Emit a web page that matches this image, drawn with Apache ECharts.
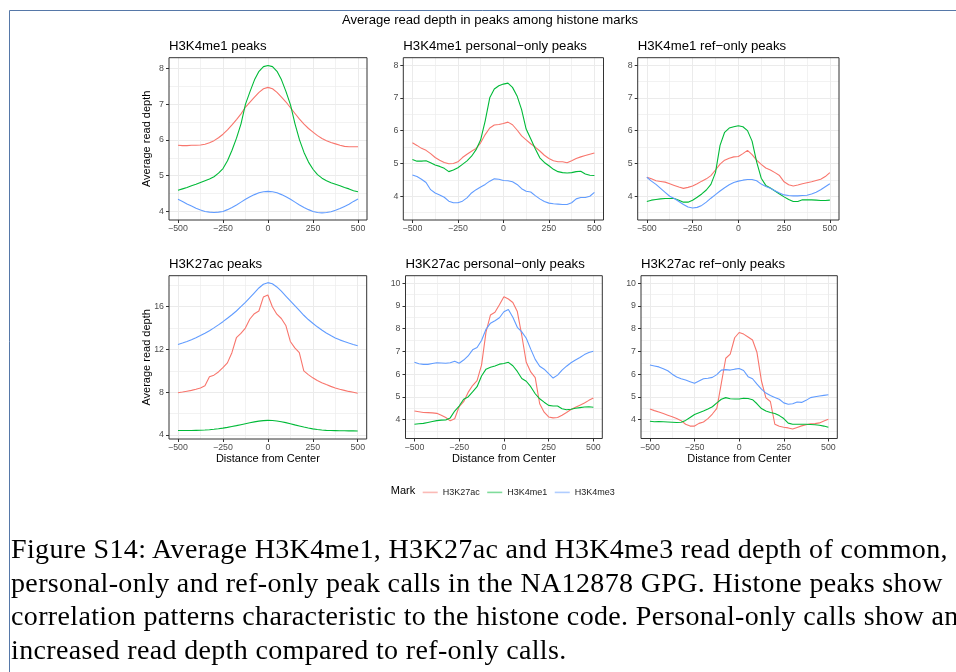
<!DOCTYPE html>
<html>
<head>
<meta charset="utf-8">
<script src="https://cdn.jsdelivr.net/npm/echarts@6/dist/echarts.min.js"></script>
<style>
  html, body { margin: 0; padding: 0; background: #fff; }
  #chart { position: absolute; left: 0; top: 0; width: 956px; height: 672px; }
  #caption {
    position: absolute; left: 11px; top: 532px; width: 945px; overflow: hidden;
    font-family: 'Liberation Serif', 'Times New Roman', serif; font-size: 28px;
    letter-spacing: 0.35px; line-height: 33.6px; color: #000; white-space: pre;
  }
</style>
</head>
<body>
<div id="chart"></div>
<div id="caption"></div>
<script>
// Distance from the peak center (bp)
const distance = [-500,-475,-450,-425,-400,-375,-350,-325,-300,-275,-250,-225,-200,-175,-150,-125,-100,-75,-50,-25,
  0,25,50,75,100,125,150,175,200,225,250,275,300,325,350,375,400,425,450,475,500];

const marks = ['H3K27ac', 'H3K4me1', 'H3K4me3'];

// H3K4me1 peaks
const me1AllK27ac = [5.85,5.84,5.84,5.85,5.85,5.86,5.88,5.92,5.98,6.06,6.16,6.28,6.42,6.57,6.73,6.92,7.06,7.2,7.33,7.43,
  7.47,7.43,7.33,7.2,7.06,6.9,6.74,6.58,6.44,6.32,6.22,6.12,6.04,5.98,5.93,5.89,5.85,5.82,5.81,5.81,5.81];
const me1AllMe1 = [4.59,4.63,4.67,4.72,4.76,4.81,4.86,4.91,4.97,5.07,5.2,5.42,5.71,6.05,6.45,7.0,7.35,7.68,7.92,8.05,
  8.08,8.05,7.92,7.68,7.35,6.98,6.45,6.0,5.65,5.38,5.18,5.03,4.93,4.86,4.8,4.76,4.72,4.67,4.63,4.58,4.55];
const me1AllMe3 = [4.34,4.28,4.21,4.15,4.09,4.04,4.0,3.98,3.97,3.98,4.0,4.05,4.11,4.18,4.26,4.34,4.41,4.47,4.52,4.55,
  4.56,4.55,4.52,4.47,4.41,4.34,4.26,4.18,4.11,4.05,4.0,3.97,3.96,3.97,3.99,4.03,4.08,4.14,4.2,4.28,4.35];

// H3K4me1 personal-only peaks
const me1PersK27ac = [5.63,5.55,5.46,5.4,5.3,5.18,5.1,5.03,4.99,5.0,5.05,5.18,5.28,5.37,5.46,5.63,5.88,6.08,6.17,6.19,
  6.22,6.26,6.18,6.02,5.84,5.72,5.6,5.5,5.38,5.25,5.15,5.08,5.05,5.05,5.02,5.08,5.15,5.2,5.24,5.28,5.32];
const me1PersMe1 = [5.12,5.07,5.07,5.08,5.02,4.95,4.91,4.85,4.75,4.8,4.87,4.97,5.08,5.22,5.42,5.72,6.3,7.0,7.27,7.37,
  7.42,7.45,7.32,7.06,6.64,6.05,5.75,5.45,5.17,5.03,4.93,4.82,4.75,4.72,4.71,4.72,4.75,4.76,4.68,4.64,4.63];
const me1PersMe3 = [4.65,4.6,4.52,4.42,4.2,4.1,4.04,3.97,3.85,3.8,3.8,3.85,3.95,4.1,4.2,4.28,4.36,4.46,4.53,4.52,
  4.48,4.47,4.44,4.36,4.23,4.15,4.13,4.02,3.92,3.84,3.79,3.77,3.76,3.75,3.75,3.8,3.92,3.96,3.96,4.0,4.12];

// H3K4me1 ref-only peaks
const me1RefK27ac = [4.58,4.53,4.47,4.45,4.43,4.38,4.33,4.28,4.24,4.27,4.31,4.38,4.46,4.53,4.63,4.8,4.98,5.1,5.16,5.2,
  5.21,5.3,5.4,5.27,5.1,4.97,4.86,4.8,4.72,4.63,4.44,4.35,4.31,4.34,4.38,4.41,4.44,4.48,4.52,4.6,4.72];
const me1RefMe1 = [3.84,3.88,3.9,3.92,3.93,3.93,3.93,3.88,3.82,3.82,3.88,3.97,4.07,4.19,4.36,4.72,5.55,5.95,6.08,6.12,
  6.15,6.12,6.0,5.68,5.05,4.55,4.33,4.25,4.16,4.07,3.98,3.9,3.84,3.84,3.89,3.89,3.89,3.88,3.87,3.87,3.88];
const me1RefMe3 = [4.58,4.46,4.36,4.24,4.12,4.0,3.93,3.84,3.75,3.67,3.64,3.66,3.72,3.82,3.94,4.05,4.16,4.26,4.35,4.42,
  4.46,4.49,4.51,4.51,4.47,4.37,4.3,4.24,4.17,4.1,4.04,4.02,4.01,4.01,4.02,4.03,4.07,4.12,4.2,4.29,4.38];

// H3K27ac peaks
const k27AllK27ac = [7.95,8.02,8.1,8.18,8.28,8.4,8.6,9.45,9.6,9.9,10.3,10.75,11.7,13.1,13.5,14.0,14.85,15.35,15.6,16.9,
  17.1,16.0,15.3,14.9,14.25,12.75,12.15,11.7,10.0,9.65,9.35,9.1,8.9,8.72,8.55,8.4,8.28,8.18,8.08,8.0,7.9];
const k27AllMe1 = [4.42,4.42,4.42,4.43,4.44,4.45,4.47,4.5,4.54,4.59,4.65,4.72,4.8,4.88,4.97,5.06,5.15,5.23,5.3,5.35,
  5.37,5.36,5.32,5.25,5.16,5.06,4.95,4.85,4.75,4.66,4.58,4.52,4.47,4.44,4.42,4.41,4.4,4.4,4.39,4.39,4.38];
const k27AllMe3 = [12.47,12.6,12.75,12.92,13.1,13.3,13.52,13.76,14.02,14.3,14.6,14.92,15.25,15.6,16.0,16.4,16.85,17.3,17.75,18.1,
  18.25,18.15,17.85,17.45,17.0,16.55,16.1,15.65,15.2,14.8,14.45,14.12,13.82,13.55,13.3,13.08,12.9,12.75,12.6,12.47,12.35];

// H3K27ac personal-only peaks
const k27PersK27ac = [4.38,4.35,4.32,4.31,4.3,4.28,4.2,4.1,3.95,4.04,4.58,4.79,5.2,5.5,5.72,6.4,7.85,8.6,8.72,9.05,
  9.4,9.3,9.15,8.75,7.7,6.52,6.1,5.85,4.7,4.33,4.12,4.08,4.1,4.2,4.32,4.45,4.55,4.64,4.73,4.85,4.95];
const k27PersMe1 = [3.8,3.82,3.84,3.88,3.92,3.96,3.98,3.99,4.08,4.38,4.6,4.9,5.0,5.22,5.45,5.92,6.22,6.3,6.36,6.44,
  6.47,6.52,6.37,6.12,5.81,5.69,5.45,5.14,4.92,4.77,4.63,4.6,4.6,4.48,4.44,4.46,4.5,4.53,4.56,4.57,4.55];
const k27PersMe3 = [6.52,6.46,6.43,6.43,6.47,6.5,6.49,6.48,6.5,6.57,6.48,6.62,6.8,7.07,7.17,7.48,7.97,8.24,8.35,8.48,
  8.74,8.84,8.5,8.06,7.86,7.58,7.1,6.65,6.35,6.22,6.02,5.83,5.96,6.18,6.35,6.5,6.62,6.73,6.86,6.95,7.01];

// H3K27ac ref-only peaks
const k27RefK27ac = [4.47,4.4,4.34,4.27,4.2,4.13,4.05,3.96,3.8,3.72,3.72,3.84,3.9,4.05,4.25,4.5,5.6,6.7,6.88,7.6,
  7.83,7.76,7.63,7.5,6.95,5.7,4.96,4.8,3.8,3.71,3.67,3.64,3.59,3.66,3.73,3.78,3.82,3.83,3.86,3.94,4.02];
const k27RefMe1 = [3.93,3.91,3.92,3.91,3.9,3.89,3.88,3.89,3.97,4.1,4.23,4.31,4.38,4.47,4.57,4.74,4.9,4.97,4.92,4.91,
  4.91,4.94,4.93,4.88,4.7,4.49,4.38,4.32,4.27,4.18,4.05,3.85,3.8,3.8,3.8,3.8,3.79,3.78,3.76,3.72,3.67];
const k27RefMe3 = [6.4,6.36,6.32,6.24,6.15,6.0,5.88,5.8,5.74,5.67,5.6,5.7,5.8,5.82,5.86,5.98,6.18,6.2,6.18,6.22,
  6.25,6.16,5.89,5.8,5.56,5.34,5.17,5.06,4.98,4.9,4.74,4.68,4.7,4.78,4.76,4.85,4.97,5.01,5.04,5.07,5.1];

// Axis breaks
const xTicks = [-500, -250, 0, 250, 500];
const xMinor = [-375, -125, 125, 375];
const yTicksMe1 = [4, 5, 6, 7, 8];
const yMinorMe1All = [4.5, 5.5, 6.5, 7.5];
const yMinorMe1 = [3.5, 4.5, 5.5, 6.5, 7.5];
const yTicksK27All = [4, 8, 12, 16];
const yMinorK27All = [6, 10, 14, 18];
const yTicksK27 = [4, 5, 6, 7, 8, 9, 10];
const yMinorK27 = [3.5, 4.5, 5.5, 6.5, 7.5, 8.5, 9.5];

const titleText = 'Average read depth in peaks among histone marks';
const captionLines = [
  'Figure S14: Average H3K4me1, H3K27ac and H3K4me3 read depth of common,',
  'personal-only and ref-only peak calls in the NA12878 GPG. Histone peaks show',
  'correlation patterns characteristic to the histone code. Personal-only calls show an',
  'increased read depth compared to ref-only calls.'
];

// ---- layout & styling ----
const COLORS = ['#F8766D', '#00BA38', '#619CFF'];
const SANS = "'Liberation Sans', Arial, Helvetica, sans-serif";

const panels = [
  { title: 'H3K4me1 peaks', lines: [me1AllK27ac, me1AllMe1, me1AllMe3],
    y: [3.76, 8.30], yTicks: yTicksMe1, yMinor: yMinorMe1All, box: [169, 57.7, 367, 220], yName: true, xName: false },
  { title: 'H3K4me1 personal\u2212only peaks', lines: [me1PersK27ac, me1PersMe1, me1PersMe3],
    y: [3.275, 8.225], yTicks: yTicksMe1, yMinor: yMinorMe1, box: [403.3, 57.7, 603.5, 220], yName: false, xName: false },
  { title: 'H3K4me1 ref\u2212only peaks', lines: [me1RefK27ac, me1RefMe1, me1RefMe3],
    y: [3.275, 8.225], yTicks: yTicksMe1, yMinor: yMinorMe1, box: [637.7, 57.7, 839, 220], yName: false, xName: false },
  { title: 'H3K27ac peaks', lines: [k27AllK27ac, k27AllMe1, k27AllMe3],
    y: [3.63, 18.9], yTicks: yTicksK27All, yMinor: yMinorK27All, box: [169, 275.7, 366.7, 439], yName: true, xName: true },
  { title: 'H3K27ac personal\u2212only peaks', lines: [k27PersK27ac, k27PersMe1, k27PersMe3],
    y: [3.175, 10.325], yTicks: yTicksK27, yMinor: yMinorK27, box: [405.5, 275.7, 602.3, 438.5], yName: false, xName: true },
  { title: 'H3K27ac ref\u2212only peaks', lines: [k27RefK27ac, k27RefMe1, k27RefMe3],
    y: [3.175, 10.325], yTicks: yTicksK27, yMinor: yMinorK27, box: [641, 275.7, 837.3, 438.5], yName: false, xName: true }
];

const grids = [], xAxes = [], yAxes = [], series = [];
const graphics = [
  // page frame
  { type: 'line', shape: { x1: 9.5, y1: 10.5, x2: 956, y2: 10.5 }, style: { stroke: '#5678a8', lineWidth: 1 }, silent: true },
  { type: 'line', shape: { x1: 9.5, y1: 10.5, x2: 9.5, y2: 672 }, style: { stroke: '#5678a8', lineWidth: 1 }, silent: true },
  { type: 'text', x: 490, y: 20.5, silent: true,
    style: { text: titleText, fill: '#000', fontSize: 13.1, fontFamily: SANS, align: 'center', verticalAlign: 'middle' } },
  { type: 'text', x: 403, y: 490.7, silent: true,
    style: { text: 'Mark', fill: '#000', fontSize: 11, fontFamily: SANS, align: 'center', verticalAlign: 'middle' } }
];

const minus = v => String(v).replace('-', '\u2212');

panels.forEach((p, i) => {
  const [l, t, r, b] = p.box;
  grids.push({ left: l, top: t, width: r - l, height: b - t, show: true,
    backgroundColor: 'transparent', borderColor: '#333333', borderWidth: 1, containLabel: false, z: 5 });

  const majorX = {
    gridIndex: i, type: 'value', min: -550, max: 550, position: 'bottom',
    axisLine: { show: false, onZero: false },
    axisTick: { show: true, length: 3, customValues: xTicks, lineStyle: { color: '#333333', width: 1 } },
    axisLabel: { customValues: xTicks, formatter: minus, color: '#4D4D4D', fontSize: 8.8, fontFamily: SANS, margin: 4.5 },
    splitLine: { show: true, lineStyle: { color: '#EBEBEB', width: 1 } }
  };
  const minorX = {
    gridIndex: i, type: 'value', min: -550, max: 550, position: 'top',
    axisLine: { show: false, onZero: false },
    axisTick: { show: false, customValues: xMinor },
    axisLabel: { show: false, customValues: xMinor },
    splitLine: { show: true, lineStyle: { color: '#EDEDED', width: 0.7 } }
  };
  const majorY = {
    gridIndex: i, type: 'value', min: p.y[0], max: p.y[1], position: 'left',
    axisLine: { show: false, onZero: false },
    axisTick: { show: true, length: 3, customValues: p.yTicks, lineStyle: { color: '#333333', width: 1 } },
    axisLabel: { customValues: p.yTicks, color: '#4D4D4D', fontSize: 8.8, fontFamily: SANS, margin: 5 },
    splitLine: { show: true, lineStyle: { color: '#EBEBEB', width: 1 } }
  };
  const minorY = {
    gridIndex: i, type: 'value', min: p.y[0], max: p.y[1], position: 'right',
    axisLine: { show: false, onZero: false },
    axisTick: { show: false, customValues: p.yMinor },
    axisLabel: { show: false, customValues: p.yMinor },
    splitLine: { show: true, lineStyle: { color: '#EDEDED', width: 0.7 } }
  };
  xAxes.push(majorX, minorX);
  yAxes.push(majorY, minorY);

  p.lines.forEach((vals, k) => {
    series.push({
      type: 'line', name: marks[k], xAxisIndex: 2 * i, yAxisIndex: 2 * i,
      data: distance.map((d, j) => [d, vals[j]]),
      symbol: 'none', showSymbol: false, silent: true, animation: false,
      lineStyle: { color: COLORS[k], width: 1.1 }, itemStyle: { color: COLORS[k] }, z: 3 + k
    });
  });

  graphics.push({ type: 'text', x: l, y: p.box[1] - 11, silent: true,
    style: { text: p.title, fill: '#000', fontSize: 13.2, fontFamily: SANS, align: 'left', verticalAlign: 'middle' } });
  if (p.yName) {
    graphics.push({ type: 'text', x: 146.5, y: (t + b) / 2, rotation: Math.PI / 2, silent: true,
      style: { text: 'Average read depth', fill: '#000', fontSize: 11, fontFamily: SANS, align: 'center', verticalAlign: 'middle' } });
  }
  if (p.xName) {
    graphics.push({ type: 'text', x: (l + r) / 2, y: 459.3, silent: true,
      style: { text: 'Distance from Center', fill: '#000', fontSize: 11, fontFamily: SANS, align: 'center', verticalAlign: 'middle' } });
  }
});

const chart = echarts.init(document.getElementById('chart'), null, { renderer: 'canvas' });
chart.setOption({
  animation: false,
  backgroundColor: '#fff',
  grid: grids,
  xAxis: xAxes,
  yAxis: yAxes,
  series: series,
  legend: {
    data: marks.map(name => ({ name: name, icon: 'rect' })),
    left: 422.7, top: 487.9, padding: 0, orient: 'horizontal',
    itemWidth: 15, itemHeight: 1.6, itemGap: 7.5,
    itemStyle: { opacity: 0.5 },
    textStyle: { fontSize: 9, fontFamily: SANS, color: '#1a1a1a' },
    selectedMode: false
  },
  graphic: graphics
});

document.getElementById('caption').innerHTML =
  captionLines.map(s => '<div>' + s + '</div>').join('');
</script>
</body>
</html>
